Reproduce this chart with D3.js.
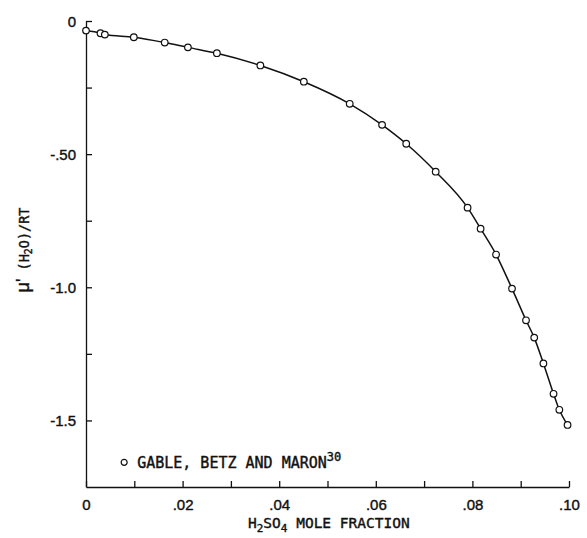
<!DOCTYPE html>
<html>
<head>
<meta charset="utf-8">
<script src="https://cdn.jsdelivr.net/npm/d3@7"></script>
<style>
  body { margin: 0; background: #fff; }
  text { fill: #111; stroke: #111; stroke-width: 0.4px; }
</style>
</head>
<body>
<div id="chart"></div>
<script>
// mole fraction of H2SO4 and mu'(H2O)/RT
var moleFraction = [0, 0.003, 0.0039, 0.0099, 0.0163, 0.0211, 0.0271, 0.0361, 0.0451,
  0.0546, 0.0613, 0.0663, 0.0724, 0.0790, 0.0817, 0.0849, 0.0882, 0.0911, 0.0928,
  0.0947, 0.0968, 0.0980, 0.0997];
var muOverRT = [-0.036, -0.046, -0.051, -0.061, -0.081, -0.099, -0.121, -0.167, -0.228,
  -0.311, -0.390, -0.461, -0.566, -0.701, -0.780, -0.877, -1.005, -1.124, -1.189,
  -1.286, -1.400, -1.460, -1.517];

var xTicks = [0, 0.01, 0.02, 0.03, 0.04, 0.05, 0.06, 0.07, 0.08, 0.09, 0.10];
var xTickLabels = {0: '0', 0.02: '.02', 0.04: '.04', 0.06: '.06', 0.08: '.08', 0.1: '.10'};
var yTicks = [0, -0.25, -0.5, -0.75, -1.0, -1.25, -1.5];
var yTickLabels = {'0': '0', '-0.5': '-.50', '-1': '-1.0', '-1.5': '-1.5'};
var legendLabel = 'GABLE, BETZ AND MARON';
var legendRef = '30';

var width = 587, height = 538;
var margin = {top: 21, right: 18, bottom: 51, left: 86};
var w = width - margin.left - margin.right,
    h = height - margin.top - margin.bottom;

var x = d3.scaleLinear().domain([0, 0.10]).range([0, w]);
var y = d3.scaleLinear().domain([-1.75, 0]).range([h, 0]);

var svg = d3.select('#chart').append('svg')
    .attr('width', width)
    .attr('height', height);

var g = svg.append('g')
    .attr('transform', 'translate(' + margin.left + ',' + margin.top + ')');

// axes, ticks point inward
var xAxis = d3.axisBottom(x)
    .tickValues(xTicks)
    .tickSizeInner(-6)
    .tickSizeOuter(0)
    .tickPadding(12)
    .tickFormat(function(d) { return xTickLabels[+d.toFixed(2)] || ''; });

var yAxis = d3.axisLeft(y)
    .tickValues(yTicks)
    .tickSizeInner(-6)
    .tickSizeOuter(0)
    .tickPadding(10)
    .tickFormat(function(d) { return yTickLabels[String(d)] || ''; });

var gx = g.append('g')
    .attr('transform', 'translate(0,' + h + ')')
    .call(xAxis);
var gy = g.append('g').call(yAxis);

[gx, gy].forEach(function(a) {
  a.selectAll('path, line').attr('stroke', '#111').attr('stroke-width', 1.3);
  a.selectAll('text')
    .attr('font-family', 'Liberation Sans, Arial, sans-serif')
    .attr('font-size', 15)
    .attr('fill', '#111');
});
gy.selectAll('text').attr('dy', '0.36em');

// fitted curve
var nodes = moleFraction.map(function(v, i) { return {x: v, y: muOverRT[i]}; });
var valueline = d3.line()
    .curve(d3.curveMonotoneX)
    .x(function(d) { return x(d.x); })
    .y(function(d) { return y(d.y); });

g.append('path')
    .datum(nodes)
    .attr('fill', 'none')
    .attr('stroke', '#111')
    .attr('stroke-width', 1.5)
    .attr('d', valueline);

g.selectAll('circle.pt')
    .data(nodes)
  .enter().append('circle')
    .attr('class', 'pt')
    .attr('cx', function(d) { return x(d.x); })
    .attr('cy', function(d) { return y(d.y); })
    .attr('r', 3.3)
    .attr('fill', '#fff')
    .attr('stroke', '#111')
    .attr('stroke-width', 1.2);

// legend
var lg = g.append('g').attr('transform', 'translate(' + (x(0.0079)) + ',' + y(-1.6575) + ')');
lg.append('circle')
    .attr('r', 3)
    .attr('fill', '#fff')
    .attr('stroke', '#111')
    .attr('stroke-width', 1.2);
var lt = lg.append('text')
    .attr('x', 13)
    .attr('y', 5.5)
    .attr('font-family', 'DejaVu Sans Mono, monospace')
    .attr('font-size', 15);
lt.append('tspan').text(legendLabel);
lt.append('tspan').attr('font-size', 12).attr('dy', -7).text(legendRef);

// x title
var xt = svg.append('text')
    .attr('x', 248)
    .attr('y', 528)
    .attr('font-family', 'DejaVu Sans Mono, monospace')
    .attr('font-size', 14.5);
xt.append('tspan').text('H');
xt.append('tspan').attr('font-size', 11).attr('dy', 4).text('2');
xt.append('tspan').attr('dy', -4).text('SO');
xt.append('tspan').attr('font-size', 11).attr('dy', 4).text('4');
xt.append('tspan').attr('dy', -4).text(' MOLE FRACTION');

// y title
var yt = svg.append('text')
    .attr('transform', 'translate(29,250) rotate(-90)')
    .attr('text-anchor', 'middle')
    .attr('font-family', 'DejaVu Sans Mono, monospace')
    .attr('font-size', 13.5);
yt.append('tspan').attr('font-size', 18).attr('font-family', 'Liberation Sans, sans-serif').text('\u03bc\'');
yt.append('tspan').text(' (H');
yt.append('tspan').attr('font-size', 10).attr('dy', 3).text('2');
yt.append('tspan').attr('dy', -3).text('O)/RT');
</script>
</body>
</html>
